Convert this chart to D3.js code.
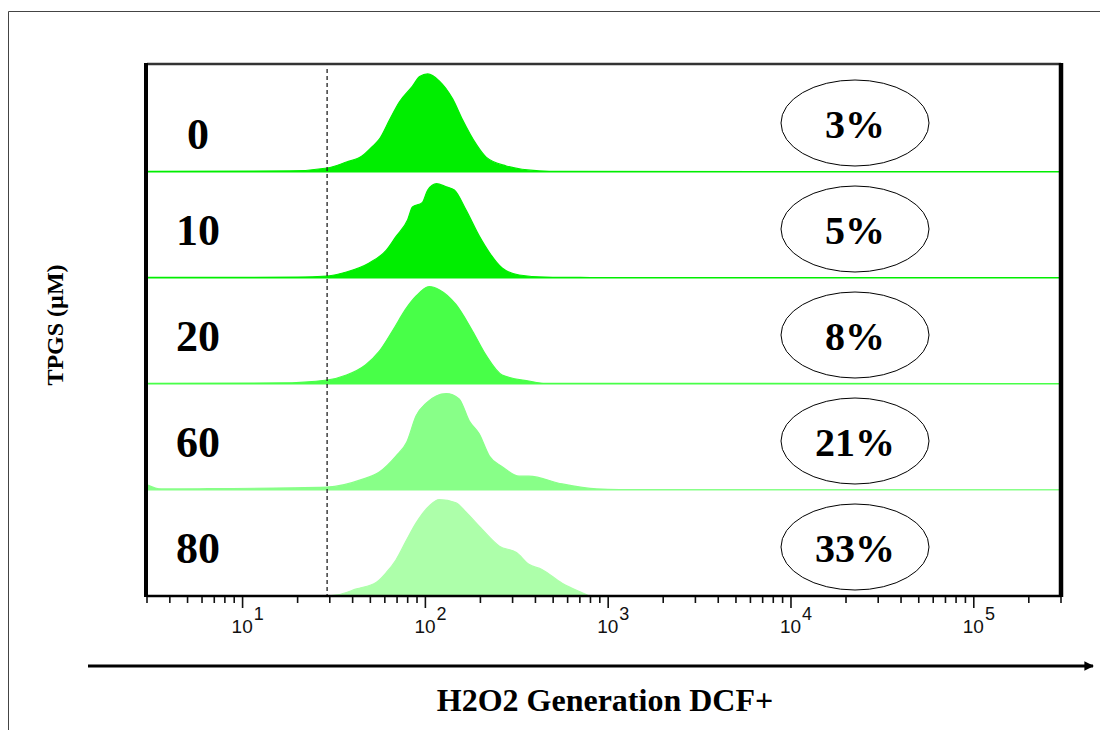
<!DOCTYPE html>
<html lang="en">
<head>
    <meta charset="utf-8" />
    <title>H2O2 Generation DCF+</title>
    <script src="https://d3js.org/d3.v7.min.js"></script>
    <style>
        body { margin: 0; background: white; }
        svg { display: block; }
        .serif { font-family: 'Liberation Serif', 'Times New Roman', serif; font-weight: bold; fill: black; }
        .tick-label { font-family: 'Liberation Sans', Arial, sans-serif; fill: #111; }
    </style>
</head>
<body>
    <script>

        // TPGS concentrations (one histogram lane each) and gated percentages
        const lanes = ["0", "10", "20", "60", "80"];
        const percents = ["3%", "5%", "8%", "21%", "33%"];

        // Histograms: [DCF intensity, % of lane height]
        const hist0 = [[3, 0.5], [18, 1], [29, 3.8], [37, 9.4], [45, 15], [51, 23.6], [56, 31], [64, 50], [72, 66],
            [85, 81], [93, 90], [103, 92.5], [119, 86], [141, 69], [159, 50], [190, 26], [215, 14], [277, 5.7],
            [420, 1], [540, 0.5], [300000, 0.4]];
        const hist1 = [[3, 0.5], [20, 0.8], [29, 1.9], [37, 5.7], [49, 14], [61, 26], [69, 39], [80, 55], [85, 67],
            [96, 71], [103, 83], [115, 89], [130, 86], [144, 83], [167, 64], [198, 39], [224, 24], [263, 9.4],
            [326, 2.8], [455, 0.8], [650, 0.6], [800, 0.4], [300000, 0.4]];
        const hist2 = [[3, 0.5], [16, 1], [29, 3.8], [37, 8.5], [47, 18], [56, 31], [66, 50], [79, 72], [89, 83],
            [105, 92], [119, 89], [147, 75], [181, 50], [215, 27], [263, 8.5], [368, 2.8], [455, 0.6],
            [300000, 0.4]];
        const hist3 = [[3, 5], [3.6, 1], [5.8, 1.2], [29, 2.8], [45, 10], [56, 17], [69, 32], [79, 45], [89, 70],
            [101, 82], [130, 91], [153, 86], [174, 65], [197, 53], [224, 32], [263, 22], [326, 13], [368, 13],
            [560, 5.7], [865, 1], [1150, 0.4], [300000, 0.4]];
        const hist4 = [[29, 0], [33, 1], [42, 6.7], [54, 13], [61, 22], [69, 34], [79, 53], [89, 69], [105, 85],
            [119, 91], [147, 88], [167, 79], [204, 63], [254, 47], [315, 41], [368, 30], [434, 25], [560, 12],
            [720, 3], [790, 0]];
        const histograms = [hist0, hist1, hist2, hist3, hist4];

        // Gate marker and axis tick positions
        const gateValue = 29;
        const decades = [1, 2, 3, 4, 5];
        const ellipseValue = 22400;

        const laneColors = ["#00ee00", "#00ee00", "#48ff48", "#88ff88", "#adffaa"];

        const width = 1100, height = 730;
        const plot = { left: 147, right: 1061, top: 64, bottom: 596 };

        const svg = d3.select("body")
            .append("svg")
            .attr("width", width)
            .attr("height", height);

        // Outer frame (top and left edges only)
        svg.append("path")
            .attr("d", "M8.5,730 V11.5 H1100")
            .attr("fill", "none")
            .attr("stroke", "#444")
            .attr("stroke-width", 1);

        const x = d3.scaleLog()
            .domain([3, 300000])
            .range([plot.left, plot.right]);

        const band = d3.scaleBand()
            .domain(lanes)
            .range([plot.top + 2, plot.bottom]);

        const yCount = d3.scaleLinear()
            .domain([0, 100])
            .range([0, band.bandwidth()]);

        // Histograms
        lanes.forEach((lane, i) => {
            const base = band(lane) + band.bandwidth();
            const area = d3.area()
                .x(d => x(d[0]))
                .y0(base)
                .y1(d => base - yCount(d[1]))
                .curve(d3.curveMonotoneX);
            svg.append("path")
                .datum(histograms[i])
                .attr("d", area)
                .attr("fill", laneColors[i])
                .attr("stroke", laneColors[i])
                .attr("stroke-width", 1.2);
        });

        // Gate (dashed line)
        svg.append("line")
            .attr("x1", x(gateValue)).attr("x2", x(gateValue))
            .attr("y1", plot.top + 5).attr("y2", plot.bottom)
            .attr("stroke", "#222")
            .attr("stroke-width", 1.3)
            .attr("stroke-dasharray", "4,3");

        // Plot box
        svg.append("line").attr("x1", plot.left).attr("x2", plot.right)
            .attr("y1", plot.top).attr("y2", plot.top)
            .attr("stroke", "#333").attr("stroke-width", 2.5);
        svg.append("line").attr("x1", plot.left - 1).attr("x2", plot.left - 1)
            .attr("y1", plot.top - 1).attr("y2", plot.bottom + 1)
            .attr("stroke", "black").attr("stroke-width", 4);
        svg.append("line").attr("x1", plot.right).attr("x2", plot.right)
            .attr("y1", plot.top - 1).attr("y2", plot.bottom + 1)
            .attr("stroke", "black").attr("stroke-width", 4.5);
        svg.append("line").attr("x1", plot.left).attr("x2", plot.right)
            .attr("y1", plot.bottom).attr("y2", plot.bottom)
            .attr("stroke", "black").attr("stroke-width", 2.5);

        // Log axis ticks
        const minorTicks = [];
        for (let e = 0; e <= 5; e++) {
            for (let m = 1; m <= 9; m++) {
                const v = m * Math.pow(10, e);
                if (v >= 3 && v <= 300000) minorTicks.push(v);
            }
        }
        svg.append("g")
            .selectAll("line")
            .data(minorTicks)
            .join("line")
            .attr("x1", d => x(d)).attr("x2", d => x(d))
            .attr("y1", plot.bottom + 1)
            .attr("y2", d => Number.isInteger(Math.log10(d)) ? plot.bottom + 12 : plot.bottom + 7)
            .attr("stroke", "#111")
            .attr("stroke-width", 1.6);

        const labels = svg.append("g")
            .selectAll("text")
            .data(decades)
            .join("text")
            .attr("class", "tick-label")
            .attr("x", d => x(Math.pow(10, d)) - 11)
            .attr("y", plot.bottom + 37)
            .attr("font-size", 19);
        labels.append("tspan").text("10");
        labels.append("tspan")
            .attr("dx", 1)
            .attr("dy", -13)
            .attr("font-size", 18)
            .text(d => d);

        // Lane labels
        svg.append("g")
            .selectAll("text")
            .data(lanes)
            .join("text")
            .attr("class", "serif")
            .attr("x", 198)
            .attr("y", (d, i) => band(d) + band.bandwidth() / 2 + (i === 0 ? 30 : 20))
            .attr("text-anchor", "middle")
            .style("font-size", "44px")
            .text(d => d);

        // Percent ellipses
        const ell = svg.append("g")
            .selectAll("g")
            .data(lanes)
            .join("g")
            .attr("transform", d => `translate(${x(ellipseValue)}, ${band(d) + band.bandwidth() / 2 + 4})`);
        ell.append("ellipse")
            .attr("rx", 74).attr("ry", 43)
            .attr("fill", "white")
            .attr("stroke", "black")
            .attr("stroke-width", 1);
        ell.append("text")
            .attr("class", "serif")
            .attr("text-anchor", "middle")
            .attr("y", 15)
            .style("font-size", "40px")
            .text((d, i) => percents[i]);

        // Y title
        svg.append("text")
            .attr("class", "serif")
            .attr("transform", "translate(63, 325) rotate(-90)")
            .attr("text-anchor", "middle")
            .style("font-size", "24px")
            .text("TPGS (\u00b5M)");

        // X arrow and title
        svg.append("defs").append("marker")
            .attr("id", "arrow")
            .attr("viewBox", "0 0 10 10")
            .attr("refX", 9).attr("refY", 5)
            .attr("markerWidth", 3.2).attr("markerHeight", 3.2)
            .attr("orient", "auto")
            .append("path")
            .attr("d", "M0,0 L10,5 L0,10 z")
            .attr("fill", "black");
        svg.append("line")
            .attr("x1", 88).attr("x2", 1093)
            .attr("y1", 666).attr("y2", 666)
            .attr("stroke", "black")
            .attr("stroke-width", 3)
            .attr("marker-end", "url(#arrow)");

        svg.append("text")
            .attr("class", "serif")
            .attr("x", 605)
            .attr("y", 711)
            .attr("text-anchor", "middle")
            .style("font-size", "32px")
            .text("H2O2 Generation DCF+");

    </script>
</body>
</html>
